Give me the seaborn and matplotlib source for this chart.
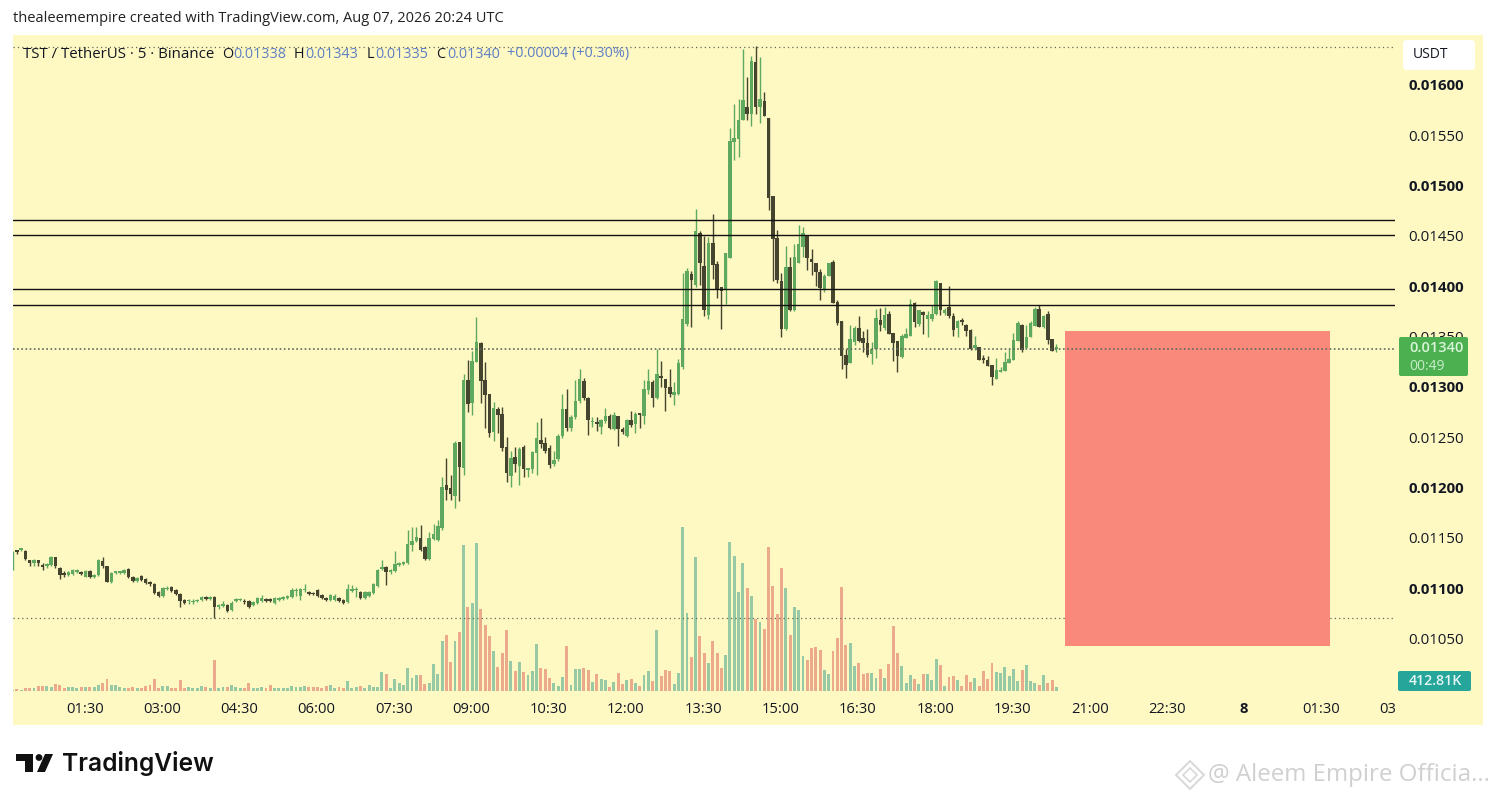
import numpy as np
import pandas as pd
import seaborn as sns
import matplotlib
matplotlib.use("Agg")
import matplotlib.pyplot as plt
from matplotlib.patches import Rectangle, FancyBboxPatch, Polygon, Circle
from matplotlib.transforms import IdentityTransform

# ---- data: 5-minute candles, prices in units of 0.00001 USDT ----
opens = [
1122,1137,1138,1137,1128,1125,1128,1123,1122,1123,
1131,1120,1115,1113,1114,1116,1116,1111,1117,1111,
1113,1127,1122,1106,1115,1115,1115,1119,1111,1107,
1112,1109,1106,1104,1096,1092,1099,1101,1098,1094,
1088,1087,1086,1087,1088,1091,1089,1091,1081,1082,
1083,1078,1087,1088,1087,1087,1083,1085,1087,1089,
1089,1085,1088,1089,1090,1091,1097,1092,1098,1096,
1095,1098,1093,1090,1088,1088,1090,1088,1086,1097,
1098,1096,1090,1092,1095,1102,1119,1121,1116,1117,
1123,1124,1125,1143,1147,1150,1141,1129,1149,1148,
1160,1202,1199,1191,1245,1219,1307,1284,1325,1344,
1307,1293,1255,1278,1273,1240,1211,1230,1221,1240,
1217,1218,1234,1247,1244,1239,1223,1228,1251,1278,
1259,1270,1286,1306,1289,1265,1265,1260,1266,1271,
1258,1271,1258,1251,1267,1263,1273,1271,1297,1305,
1289,1311,1308,1300,1292,1293,1320,1362,1412,1401,
1453,1420,1371,1443,1422,1399,1397,1428,1543,1546,
1565,1578,1571,1623,1578,1584,1567,1490,1448,1405,
1357,1419,1376,1423,1439,1450,1427,1423,1414,1397,
1410,1424,1384,1365,1332,1324,1345,1358,1349,1344,
1333,1338,1366,1358,1372,1353,1346,1330,1349,1351,
1383,1362,1374,1367,1367,1372,1403,1373,1379,1370,
1358,1366,1361,1356,1339,1340,1328,1327,1322,1308,
1315,1316,1324,1327,1346,1361,1339,1350,1360,1377,
1359,1372,1348,1338]
closes = [
1136,1136,1139,1129,1125,1128,1125,1121,1123,1131,
1122,1113,1113,1116,1118,1118,1114,1117,1111,1113,
1128,1122,1106,1115,1116,1116,1118,1111,1107,1110,
1108,1105,1104,1095,1092,1100,1100,1097,1094,1087,
1085,1088,1087,1088,1091,1089,1091,1081,1083,1084,
1077,1085,1089,1089,1086,1081,1086,1090,1090,1087,
1087,1090,1090,1091,1092,1098,1098,1099,1099,1094,
1094,1092,1090,1088,1093,1092,1087,1085,1099,1099,
1098,1090,1096,1096,1104,1118,1121,1116,1118,1124,
1125,1126,1144,1147,1151,1138,1129,1150,1154,1162,
1200,1197,1193,1244,1220,1307,1283,1326,1345,1306,
1292,1254,1279,1272,1239,1214,1229,1223,1238,1218,
1219,1235,1249,1243,1236,1222,1227,1251,1278,1259,
1270,1286,1308,1289,1267,1265,1263,1267,1271,1259,
1272,1258,1255,1267,1262,1273,1272,1298,1306,1289,
1313,1309,1299,1293,1295,1324,1367,1415,1406,1455,
1423,1376,1443,1421,1396,1395,1433,1544,1547,1565,
1585,1571,1624,1578,1586,1569,1488,1447,1406,1357,
1419,1376,1429,1442,1453,1428,1424,1414,1398,1410,
1423,1383,1363,1331,1322,1348,1358,1346,1344,1332,
1338,1368,1361,1371,1352,1344,1331,1351,1352,1382,
1364,1376,1371,1371,1372,1405,1376,1376,1370,1356,
1365,1364,1355,1338,1342,1327,1327,1321,1310,1317,
1317,1325,1328,1347,1363,1337,1350,1363,1377,1359,
1370,1347,1336,1340]
highs = [
1137,1138,1140,1138,1128,1129,1128,1125,1125,1132,
1131,1121,1117,1117,1119,1119,1117,1118,1118,1114,
1129,1131,1122,1116,1117,1117,1119,1120,1112,1111,
1113,1110,1107,1105,1097,1101,1102,1102,1099,1095,
1089,1089,1089,1089,1092,1092,1092,1092,1084,1087,
1084,1087,1090,1090,1089,1088,1087,1091,1093,1090,
1090,1091,1091,1092,1093,1100,1100,1100,1104,1097,
1096,1099,1094,1091,1094,1094,1091,1089,1104,1103,
1101,1097,1097,1097,1105,1119,1128,1122,1119,1137,
1126,1127,1158,1161,1161,1163,1142,1156,1164,1168,
1210,1229,1212,1246,1245,1313,1327,1336,1369,1345,
1325,1293,1285,1280,1280,1250,1236,1240,1240,1242,
1219,1236,1265,1269,1250,1242,1236,1253,1293,1298,
1272,1307,1318,1309,1290,1270,1270,1268,1279,1273,
1275,1271,1260,1268,1276,1275,1274,1307,1318,1307,
1338,1326,1308,1318,1305,1328,1413,1418,1415,1477,
1455,1450,1449,1472,1425,1399,1433,1557,1581,1586,
1636,1608,1629,1639,1628,1593,1567,1490,1456,1413,
1440,1429,1442,1461,1459,1450,1437,1423,1417,1412,
1423,1426,1386,1365,1338,1361,1360,1370,1355,1357,
1345,1377,1378,1379,1375,1353,1346,1352,1358,1387,
1384,1376,1375,1375,1381,1406,1403,1378,1400,1373,
1366,1368,1362,1357,1351,1340,1332,1331,1322,1329,
1320,1335,1338,1353,1365,1362,1361,1365,1379,1381,
1371,1375,1348,1343]
lows = [
1118,1134,1137,1128,1122,1122,1122,1118,1120,1122,
1120,1109,1111,1112,1113,1115,1113,1111,1110,1110,
1112,1120,1106,1105,1114,1114,1114,1110,1106,1106,
1107,1104,1102,1094,1091,1091,1098,1096,1093,1081,
1084,1084,1084,1086,1087,1088,1088,1070,1079,1081,
1076,1077,1086,1087,1084,1080,1082,1084,1086,1086,
1086,1084,1087,1088,1089,1090,1092,1088,1096,1093,
1093,1091,1089,1087,1087,1087,1086,1084,1085,1096,
1091,1089,1089,1091,1094,1101,1118,1103,1114,1116,
1122,1123,1124,1137,1146,1137,1128,1128,1148,1147,
1158,1187,1187,1180,1186,1212,1275,1272,1325,1284,
1259,1250,1246,1254,1236,1205,1200,1215,1202,1210,
1210,1214,1212,1239,1234,1219,1221,1226,1249,1256,
1256,1268,1284,1287,1252,1260,1256,1253,1264,1258,
1257,1241,1253,1250,1260,1254,1259,1263,1293,1280,
1288,1300,1276,1290,1282,1292,1318,1360,1359,1399,
1401,1370,1367,1407,1388,1357,1382,1428,1525,1528,
1565,1565,1559,1571,1562,1569,1476,1405,1403,1350,
1356,1375,1375,1423,1429,1416,1411,1400,1386,1394,
1410,1383,1361,1318,1309,1324,1342,1345,1335,1330,
1323,1329,1355,1356,1352,1326,1315,1329,1349,1351,
1359,1360,1352,1350,1365,1371,1371,1371,1368,1351,
1350,1361,1351,1337,1337,1327,1324,1321,1302,1308,
1315,1316,1324,1327,1346,1335,1339,1350,1360,1359,
1358,1343,1336,1335]
# volume in thousands of TST
volumes = [
138,172,103,275,275,275,516,516,516,447,
722,619,275,378,378,275,378,378,378,378,
619,860,1273,619,619,447,275,344,378,275,
344,550,619,1273,275,516,516,344,344,1135,
275,378,344,344,516,447,344,3199,344,447,
378,585,447,344,344,860,275,275,378,344,
585,275,275,275,275,516,447,447,516,378,
447,447,344,550,585,344,447,344,998,344,
378,516,275,619,378,447,1926,1754,275,1238,
860,619,2339,1307,1617,1651,722,860,2786,1754,
5160,5779,2958,5160,6123,15067,8634,9047,15239,8497,
6811,5676,4128,2442,3887,6295,3096,2064,2958,1926,
1617,2064,4850,2374,2270,1307,791,516,1410,4644,
619,2270,2270,2374,2167,929,1754,1238,1135,447,
894,1823,722,1135,1238,791,516,1617,2064,998,
6295,1548,2133,2064,722,1823,16925,8015,3543,13794,
5676,3922,2855,5160,3887,2374,3715,15342,13932,10217,
13175,10595,9804,7396,7155,6398,14895,10870,7946,12659,
10595,5779,8634,8359,3612,3199,4438,4541,4231,2167,
1754,4128,5470,10767,4747,4919,2580,2855,1754,1892,
1892,1342,2270,1342,2786,6708,3887,2580,860,1651,
1238,722,1754,1754,1135,3302,2683,516,1479,1548,
1135,516,1651,929,1342,516,2064,1238,2890,1961,
1858,2477,1548,2270,1032,2167,2683,1032,826,619,
1651,826,1135,412.81]

resistance_lines = [0.014658, 0.014509, 0.013972, 0.013813]
dotted_levels = [0.016378, 0.010700]
last_price_line = 0.01338
zone_prices = [0.010424, 0.013555]
zone_bars = [245.0, 306.7]
price_ticks = [0.0105, 0.0110, 0.0115, 0.0120, 0.0125, 0.0130, 0.0135, 0.0140, 0.0145, 0.0150, 0.0155, 0.0160]
time_tick_bars = [16.8, 34.8, 52.8, 70.8, 88.8, 106.8, 124.8, 142.8, 160.8, 178.8, 196.8, 214.8, 232.8, 250.8, 268.8, 286.5, 304.7, 320]
time_tick_labels = ["01:30", "03:00", "04:30", "06:00", "07:30", "09:00", "10:30", "12:00", "13:30",
                    "15:00", "16:30", "18:00", "19:30", "21:00", "22:30", "8", "01:30", "03"]

# ---- styling ----
W, H = 1495, 801
YELLOW = "#FEF8C3"
UP, DOWN = "#5FA85F", "#44442F"
VOL_UP, VOL_DOWN = "#98C9A5", "#EBAA8C"
INK = "#131722"
BLUE = "#5E7FC4"

sns.set_theme(style="white", rc={"axes.facecolor": "none", "figure.facecolor": "white"})
plt.rcParams["font.family"] = ["Open Sans", "DejaVu Sans"]

df = pd.DataFrame({"bar": np.arange(len(opens)),
                   "open": np.array(opens) / 1e5, "close": np.array(closes) / 1e5,
                   "high": np.array(highs) / 1e5, "low": np.array(lows) / 1e5,
                   "volume": volumes})
df["direction"] = np.where(df["close"] >= df["open"], "up", "down")

fig = plt.figure(figsize=(W / 100, H / 100), dpi=100)
fx = lambda px: px / W
fy = lambda py: 1 - py / H

def rect_box(x0, y0, x1, y1, color, z, rounded=0):
    if rounded:
        p = FancyBboxPatch((x0, H - y1), x1 - x0, y1 - y0, boxstyle=f"round,pad=0,rounding_size={rounded}",
                           fc=color, ec="none", transform=IdentityTransform(), zorder=z)
    else:
        p = Rectangle((x0, H - y1), x1 - x0, y1 - y0, fc=color, ec="none",
                      transform=IdentityTransform(), zorder=z)
    fig.add_artist(p)

rect_box(13, 35, 1483, 725, YELLOW, -1)

L, R, T, B = 13, 1395, 35, 697
ax_vol = fig.add_axes([fx(L), fy(B), fx(R) - fx(L), fy(T) - fy(B)], zorder=1)
ax_price = ax_vol.twinx()
ax_price.set_zorder(2)

# volume pane (seaborn)
sns.barplot(data=df, x="bar", y="volume", hue="direction", hue_order=["up", "down"],
            palette={"up": VOL_UP, "down": VOL_DOWN}, native_scale=True, dodge=False,
            width=0.68, errorbar=None, legend=False, saturation=1, ax=ax_vol, linewidth=0)
px_k = 103.2
ax_vol.set_ylim(-(B - 691) * px_k, (691 - T) * px_k)
ax_vol.set_xlim((L - 12.5) / 4.296, (R - 12.5) / 4.296)
ax_vol.set_ylabel("")
ax_vol.set_xlabel("")
ax_vol.set_yticks([])
ax_vol.set_xticks(time_tick_bars)
ax_vol.set_xticklabels(time_tick_labels)
ax_vol.tick_params(axis="x", length=0, pad=3.5, labelsize=10.6, labelcolor=INK)
for lab, txt in zip(ax_vol.get_xticklabels(), time_tick_labels):
    if txt == "8":
        lab.set_fontweight("bold")

# price pane
ax_price.set_ylim(0.016 - (B - 85) * 9.94e-6, 0.016 + (85 - T) * 9.94e-6)
colors = df["direction"].map({"up": UP, "down": DOWN})
ax_price.vlines(df["bar"], df["low"], df["high"], colors=colors, lw=1.0, zorder=3)
bottoms = df[["open", "close"]].min(axis=1)
heights = (df["close"] - df["open"]).abs().clip(lower=1.5e-5)
ax_price.bar(df["bar"], heights, bottom=bottoms, width=0.82, color=colors, linewidth=0, zorder=3)

for lvl in resistance_lines:
    ax_price.axhline(lvl, color="#111111", lw=1.0, zorder=5)
for lvl in dotted_levels:
    ax_price.axhline(lvl, color="#5F6A5A", lw=0.9, ls=(0, (1, 2.5)), zorder=1)
ax_price.add_patch(Rectangle((zone_bars[0], zone_prices[0]), zone_bars[1] - zone_bars[0],
                             zone_prices[1] - zone_prices[0], fc="#F98A7B", ec="none", zorder=2))
ax_price.axhline(last_price_line, color="#5F6A5A", lw=1.2, ls=(0, (1, 1.5)), zorder=4)

ax_price.set_yticks(price_ticks)
ax_price.set_yticklabels([f"{t:.5f}" for t in price_ticks])
ax_price.yaxis.tick_right()
ax_price.tick_params(axis="y", length=0, pad=9.4, labelsize=10.8, labelcolor=INK)
for lab, t in zip(ax_price.get_yticklabels(), price_ticks):
    if round(t * 1e5) % 100 == 0:
        lab.set_fontweight("bold")
for a in (ax_vol, ax_price):
    for s in a.spines.values():
        s.set_visible(False)
    a.grid(False)
    a.patch.set_alpha(0)

# ---- price-scale badges ----
rect_box(1403, 40, 1475, 70, "white", 5, rounded=4)
fig.text(fx(1413), fy(55), "USDT", fontsize=10, color=INK, va="center", zorder=6)
rect_box(1399, 337, 1468, 376, "#4CAF50", 5, rounded=2)
fig.text(fx(1409), fy(348), "0.01340", fontsize=10.5, color="#D8F5D8", fontweight="semibold", va="center", zorder=6)
fig.text(fx(1409), fy(366), "00:49", fontsize=10, color="#C8EEC8", va="center", zorder=6)
rect_box(1398, 671, 1471, 691, "#26A69A", 5, rounded=2)
fig.text(fx(1409), fy(681), "412.81K", fontsize=10.2, color="#E4F7F4", fontweight="semibold", va="center", zorder=6)

# ---- header and legend ----
fig.text(fx(13), fy(19), "thealeemempire created with TradingView.com, Aug 07, 2026 20:24 UTC",
         fontsize=10.5, color="#222222", va="center", zorder=6)
legend_parts = [(23, "TST / TetherUS · 5 · Binance", INK, 10.8), (222, "O", INK, 10.4), (233, "0.01338", BLUE, 10.4),
                (294, "H", INK, 10.4), (305, "0.01343", BLUE, 10.4), (367, "L", INK, 10.4), (375, "0.01335", BLUE, 10.4),
                (436, "C", INK, 10.4), (447, "0.01340", BLUE, 10.4), (507, "+0.00004 (+0.30%)", BLUE, 10.4)]
for x, s, c, size in legend_parts:
    fig.text(fx(x), fy(54), s, fontsize=size, color=c, va="center", zorder=6)

# ---- TradingView footer ----
logo = [Polygon([(16, H - 754), (33, H - 754), (33, H - 772), (24.5, H - 772), (24.5, H - 761), (16, H - 761)]),
        Polygon([(45, H - 754), (53, H - 754), (45, H - 772), (37, H - 772)]),
        Circle((39, H - 757.5), 3.4)]
for p in logo:
    p.set(fc="#111111", ec="none", transform=IdentityTransform(), zorder=6)
    fig.add_artist(p)
fig.text(fx(62), fy(764), "TradingView", fontsize=17.7, fontfamily="Inter", fontweight="semibold",
         color="#111111", va="center", zorder=6)

# ---- watermark ----
for r, lw in ((14, 1.4), (7, 1.2)):
    p = Polygon([(1190 - r, H - 775), (1190, H - 775 + r), (1190 + r, H - 775), (1190, H - 775 - r)],
                fc="none", ec="#D8D8D8", lw=lw, transform=IdentityTransform(), zorder=6)
    fig.add_artist(p)
fig.text(fx(1208), fy(775), "@ Aleem Empire Officia...", fontsize=17.4, color="#D0D0D0", va="center", zorder=6)

fig.savefig("out.png", dpi=100)
